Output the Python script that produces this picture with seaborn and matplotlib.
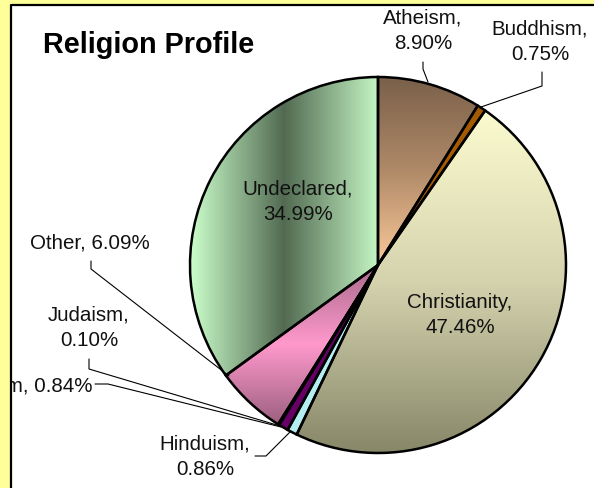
import numpy as np
import seaborn as sns
import matplotlib.pyplot as plt
from matplotlib.patches import Rectangle, Wedge

# data
religions = ['Atheism', 'Buddhism', 'Christianity', 'Hinduism',
             'Islam', 'Judaism', 'Other', 'Undeclared']
shares = [8.90, 0.75, 47.46, 0.86, 0.84, 0.10, 6.09, 34.99]

sns.set_theme(style='white')
plt.rcParams['font.family'] = ['Liberation Sans', 'DejaVu Sans']

# fills: plain colour or (direction, gradient stops)
fills = {
    'Atheism': ('v', ['#7a604a', '#b08a68', '#fbc99a']),
    'Buddhism': '#a35a00',
    'Christianity': ('v', ['#fbfbcf', '#d5d3ae', '#878769']),
    'Hinduism': '#b5eef0',
    'Islam': '#660066',
    'Judaism': '#993366',
    'Other': ('v', ['#a86a8c', '#ff99cc', '#9c6080']),
    'Undeclared': ('h', ['#ccffcc', '#526a52', '#c4f5c4']),
}

fig = plt.figure(figsize=(5.94, 4.89), dpi=100, facecolor='#ffff99')
ax = fig.add_axes([0, 0, 1, 1])

# white chart area
ax.add_patch(Rectangle((11, 6), 600, 500, facecolor='white',
                       edgecolor='none', zorder=0))

cx, cy, r = 378, 266, 188
base = [f if isinstance(f, str) else f[1][1] for f in (fills[n] for n in religions)]
# y axis is inverted (pixel coords), so counterclock in data = clockwise on screen
wedges, _ = ax.pie(shares, startangle=-90, counterclock=True, center=(cx, cy),
                   radius=r, colors=base, frame=True,
                   wedgeprops=dict(linewidth=0, zorder=1))

g = np.linspace(0, 1, 256)
for w, name in zip(wedges, religions):
    f = fills[name]
    if not isinstance(f, str):
        d, stops = f
        cmap = sns.blend_palette(stops, as_cmap=True)
        bb = w.get_path().get_extents()
        img = g[:, None] if d == 'v' else g[None, :]
        im = ax.imshow(img, cmap=cmap, extent=(bb.x0, bb.x1, bb.y1, bb.y0),
                       aspect='auto', interpolation='bilinear', zorder=2)
        im.set_clip_path(w)
    ax.add_patch(Wedge((cx, cy), r, w.theta1, w.theta2, facecolor='none',
                       edgecolor='black', linewidth=1.8, zorder=4))

# labels
fs = 14.8
lab = dict(fontsize=fs, color='#111111', ha='center', va='center',
           linespacing=1.42, zorder=6)
ax.text(423, 31, 'Atheism,\n8.90%', **lab)
ax.text(540, 42, 'Buddhism,\n0.75%', **lab)
ax.text(460, 315, 'Christianity,\n47.46%', **lab)
ax.text(298, 202, 'Undeclared,\n34.99%', **lab)
ax.text(90, 243, 'Other, 6.09%', **lab)
ax.text(89, 328, 'Judaism,\n0.10%', **lab)
ax.text(205, 457, 'Hinduism,\n0.86%', **lab)
ax.text(92, 386, 'Islam, 0.84%', **{**lab, 'ha': 'right'})

# leader lines
leaders = [
    ([423, 423, 428], [63, 70, 83]),
    ([542, 542, 481], [73, 87, 108]),
    ([91, 91, 229], [262, 270, 377]),
    ([89, 89, 280], [360, 370, 427]),
    ([95, 108, 281], [385, 385, 428]),
    ([255, 266, 290], [457, 457, 433]),
]
for xs, ys in leaders:
    ax.plot(xs, ys, color='black', linewidth=0.8, zorder=5)

ax.text(43, 45, 'Religion Profile', fontsize=20.8, fontweight='bold',
        color='black', ha='left', va='center', zorder=6)

# yellow frame strips drawn on top so the chart area clips the Islam label
ax.add_patch(Rectangle((0, 0), 11, 489, facecolor='#ffff99', edgecolor='none', zorder=10))
ax.add_patch(Rectangle((0, 0), 594, 6, facecolor='#ffff99', edgecolor='none', zorder=10))
ax.plot([11, 11, 594], [489, 6, 6], color='black', linewidth=1.6, zorder=11)

ax.set_xlim(0, 594)
ax.set_ylim(489, 0)
ax.set_aspect('equal')
ax.axis('off')

fig.savefig('out.png', dpi=100, facecolor=fig.get_facecolor())
